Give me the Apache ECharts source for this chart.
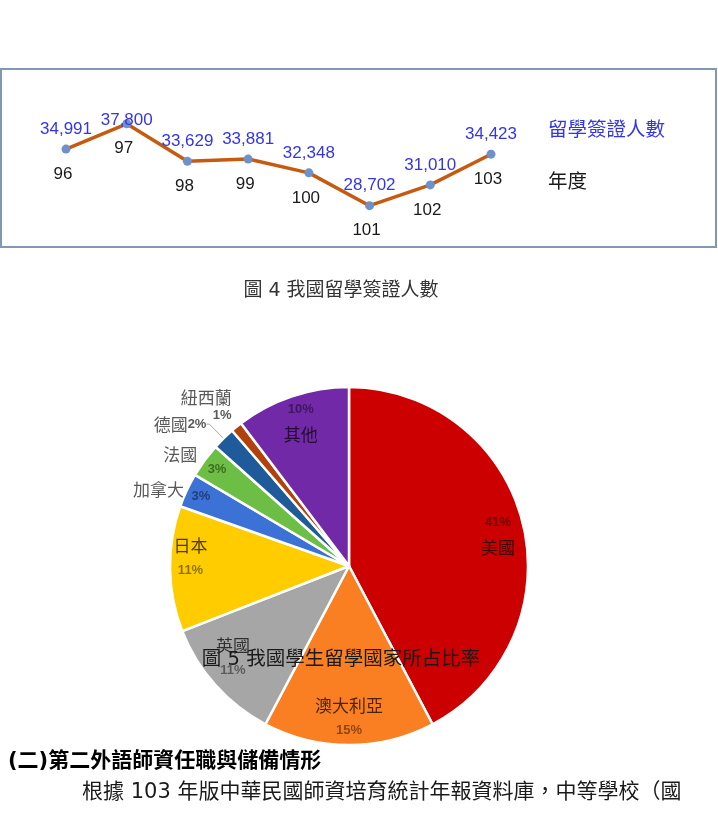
<!DOCTYPE html>
<html>
<head>
<meta charset="utf-8">
<script src="https://cdn.jsdelivr.net/npm/echarts@6/dist/echarts.min.js"></script>
<style>
html,body{margin:0;padding:0;background:#fff;}
#chart{width:718px;height:813px;}
</style>
</head>
<body>
<div id="chart"></div>
<script>
// ---- data: line chart (圖4) ----
const lineYears = ['96', '97', '98', '99', '100', '101', '102', '103'];
const visaCounts = [34991, 37800, 33629, 33881, 32348, 28702, 31010, 34423];
const lineSeriesName = '留學簽證人數';
const lineAxisName = '年度';

// ---- data: pie chart (圖5) ----
const countries = ['美國', '澳大利亞', '英國', '日本', '加拿大', '法國', '德國', '紐西蘭', '其他'];
const shares = [41, 15, 11, 11, 3, 3, 2, 1, 10];

// ---- texts ----
const caption4 = '圖 4 我國留學簽證人數';
const caption5 = '圖 5 我國學生留學國家所占比率';
const heading = '(二)第二外語師資任職與儲備情形';
const bodyLine = '根據 103 年版中華民國師資培育統計年報資料庫，中等學校（國';

// ---- styles ----
const sliceColors = ['#CC0000', '#FA7F22', '#A6A6A6', '#FFCC00', '#3C71D6', '#6DBE45', '#1F5B9B', '#B0420E', '#7229A8'];
const CJK = "'Noto Sans CJK TC', 'Noto Sans CJK SC', sans-serif";
const LAT_CJK = "'DejaVu Sans', 'Noto Sans CJK TC', sans-serif";
const NUMF = "'Liberation Sans', Arial, sans-serif";

// label arrangement per slice (style only)
const innerLayout = { '美國': 'pctFirst', '其他': 'pctFirst', '澳大利亞': 'nameFirst', '英國': 'nameFirst', '日本': 'nameFirst' };
const innerNudge = { '美國': [2, 6], '日本': [-7, -11], '英國': [-3, -9] };
const innerPctOnly = { '加拿大': true, '法國': true };
const stackedOuter = { '紐西蘭': true };
const outsideLayout = {
  '加拿大': { len: 1, len2: 2, kind: 'name' },
  '法國': { len: 9, len2: 0, kind: 'name' },
  '德國': { len: 20, len2: 3, kind: 'nameNext', line: true }
};

const pct = v => v + '%';
const fmtNum = v => v.toLocaleString('en-US');
const maxCount = Math.max.apply(null, visaCounts);

const chart = echarts.init(document.getElementById('chart'), null, { renderer: 'canvas' });

const innerRich = {
  n: { fontSize: 17, fontFamily: CJK, color: 'rgba(0,0,0,0.72)', lineHeight: 26 },
  p: { fontSize: 13, fontWeight: 'bold', fontFamily: NUMF, color: 'rgba(0,0,0,0.45)', lineHeight: 24 }
};
const outerRich = {
  n: { fontSize: 17, fontFamily: CJK, color: '#595959', lineHeight: 20 },
  p: { fontSize: 13, fontWeight: 'bold', fontFamily: NUMF, color: '#595959', lineHeight: 16 }
};
const stackedRich = {
  n: { fontSize: 17, fontFamily: CJK, color: '#595959', lineHeight: 19, align: 'right' },
  p: { fontSize: 13, fontWeight: 'bold', fontFamily: NUMF, color: '#595959', lineHeight: 16, align: 'right' }
};

const transparentItem = { color: 'rgba(0,0,0,0)', borderWidth: 0 };

const overlayBig = countries.map((c, i) => {
  const mode = innerLayout[c];
  const txt = mode === 'pctFirst' ? '{p|' + pct(shares[i]) + '}\n{n|' + c + '}'
            : '{n|' + c + '}\n{p|' + pct(shares[i]) + '}';
  return { name: c, value: shares[i], itemStyle: transparentItem,
           label: { show: !!mode, formatter: txt, offset: innerNudge[c] || [0, 0] } };
});
const overlaySmallPct = countries.map((c, i) => ({
  name: c, value: shares[i], itemStyle: transparentItem,
  label: { show: !!innerPctOnly[c], formatter: '{p|' + pct(shares[i]) + '}' }
}));
const overlayStacked = countries.map((c, i) => ({
  name: c, value: shares[i], itemStyle: transparentItem,
  label: { show: !!stackedOuter[c], formatter: '{n|' + c + '}\n{p|' + pct(shares[i]) + '}' }
}));
const overlayOutside = countries.map((c, i) => {
  const cfg = outsideLayout[c];
  if (!cfg) return { name: c, value: shares[i], itemStyle: transparentItem, label: { show: false }, labelLine: { show: false } };
  let txt = '{n|' + c + '}';
  if (cfg.kind === 'nameNext') txt = '{n|' + c + '}{p|' + pct(shares[i]) + '}';
  return {
    name: c, value: shares[i], itemStyle: transparentItem,
    label: { show: true, formatter: txt, distanceToLabelLine: 0 },
    labelLine: { show: !!cfg.line, length: cfg.len, length2: cfg.len2, lineStyle: { color: '#A6A6A6', width: 1 } }
  };
});

const pieCommon = {
  type: 'pie', startAngle: 90, clockwise: true, silent: true,
  minShowLabelAngle: 0, minAngle: 0, emphasis: { disabled: true },
  labelLayout: { hideOverlap: false, moveOverlap: null }
};

const option = {
  animation: false,
  backgroundColor: '#ffffff',
  grid: { left: 66, right: 227, top: 122, height: 90, containLabel: false },
  xAxis: { type: 'category', data: lineYears, boundaryGap: false, show: false },
  yAxis: { type: 'value', min: 28000, max: 38000, show: false },
  series: [
    {
      name: lineSeriesName + '-years',
      type: 'line',
      data: visaCounts,
      silent: true,
      symbol: 'circle',
      symbolSize: 9,
      lineStyle: { width: 0, opacity: 0 },
      itemStyle: { color: 'rgba(0,0,0,0)' },
      label: {
        show: true, position: 'bottom', distance: 12, offset: [-3, 0],
        formatter: p => p.name, color: '#1a1a1a', opacity: 1,
        fontSize: 17, fontFamily: NUMF
      },
      z: 1
    },
    {
      name: lineSeriesName,
      type: 'line',
      data: visaCounts.map(v => ({ value: v, label: v === maxCount ? { offset: [0, 17] } : {} })),
      silent: true,
      symbol: 'circle',
      symbolSize: 9,
      lineStyle: { color: '#C55A11', width: 3.5 },
      itemStyle: { color: '#6F91C9', borderWidth: 0 },
      label: {
        show: true, position: 'top', distance: 7,
        formatter: p => fmtNum(p.value), color: '#3535E8',
        fontSize: 17, fontFamily: NUMF
      },
      z: 3
    },
    Object.assign({}, pieCommon, {
      name: 'share', center: [349, 566], radius: 179,
      label: { show: false }, labelLine: { show: false },
      itemStyle: { borderColor: '#ffffff', borderWidth: 2.5 },
      data: countries.map((c, i) => ({ name: c, value: shares[i], itemStyle: { color: sliceColors[i] } }))
    }),
    Object.assign({}, pieCommon, {
      name: 'labels-inner', center: [349, 566], radius: [118, 179], avoidLabelOverlap: false,
      label: { show: true, position: 'inside', rotate: 0, overflow: 'none', rich: innerRich },
      labelLine: { show: false },
      data: overlayBig
    }),
    Object.assign({}, pieCommon, {
      name: 'labels-small', center: [349, 566], radius: [142, 179], avoidLabelOverlap: false,
      label: { show: true, position: 'inside', rotate: 0, overflow: 'none', rich: innerRich },
      labelLine: { show: false },
      data: overlaySmallPct
    }),
    Object.assign({}, pieCommon, {
      name: 'labels-outside', center: [349, 566], radius: 179, avoidLabelOverlap: false,
      label: { show: true, position: 'outside', overflow: 'none', distanceToLabelLine: 0, rich: outerRich },
      labelLine: { show: false },
      data: overlayOutside
    }),
    Object.assign({}, pieCommon, {
      name: 'labels-stacked', center: [336, 566], radius: [190, 217], avoidLabelOverlap: false,
      label: { show: true, position: 'inside', rotate: 0, overflow: 'none', rich: stackedRich },
      labelLine: { show: false },
      data: overlayStacked
    })
  ],
  graphic: [
    { type: 'rect', shape: { x: 1, y: 69, width: 715, height: 178 }, style: { fill: 'none', stroke: '#8497B0', lineWidth: 2 }, z: 0 },
    { type: 'text', x: 548, y: 129, style: { text: lineSeriesName, fill: '#3535E8', font: '19.5px ' + CJK, textAlign: 'left', textVerticalAlign: 'middle' }, z: 10 },
    { type: 'text', x: 548, y: 181, style: { text: lineAxisName, fill: '#1a1a1a', font: '19.5px ' + CJK, textAlign: 'left', textVerticalAlign: 'middle' }, z: 10 },
    { type: 'text', x: 341, y: 291, style: { text: caption4, fill: '#333333', font: '19px ' + LAT_CJK, textAlign: 'center', textVerticalAlign: 'middle' }, z: 10 },
    { type: 'text', x: 341, y: 660, style: { text: caption5, fill: '#1a1a1a', font: '19.5px ' + LAT_CJK, textAlign: 'center', textVerticalAlign: 'middle' }, z: 100 },
    { type: 'text', x: 8, y: 762, style: { text: heading, fill: '#000000', font: 'bold 21px ' + LAT_CJK, textAlign: 'left', textVerticalAlign: 'middle' }, z: 10 },
    { type: 'text', x: 82, y: 793, style: { text: bodyLine, fill: '#1a1a1a', font: '21px ' + LAT_CJK, textAlign: 'left', textVerticalAlign: 'middle' }, z: 10 }
  ]
};
chart.setOption(option);
</script>
</body>
</html>
